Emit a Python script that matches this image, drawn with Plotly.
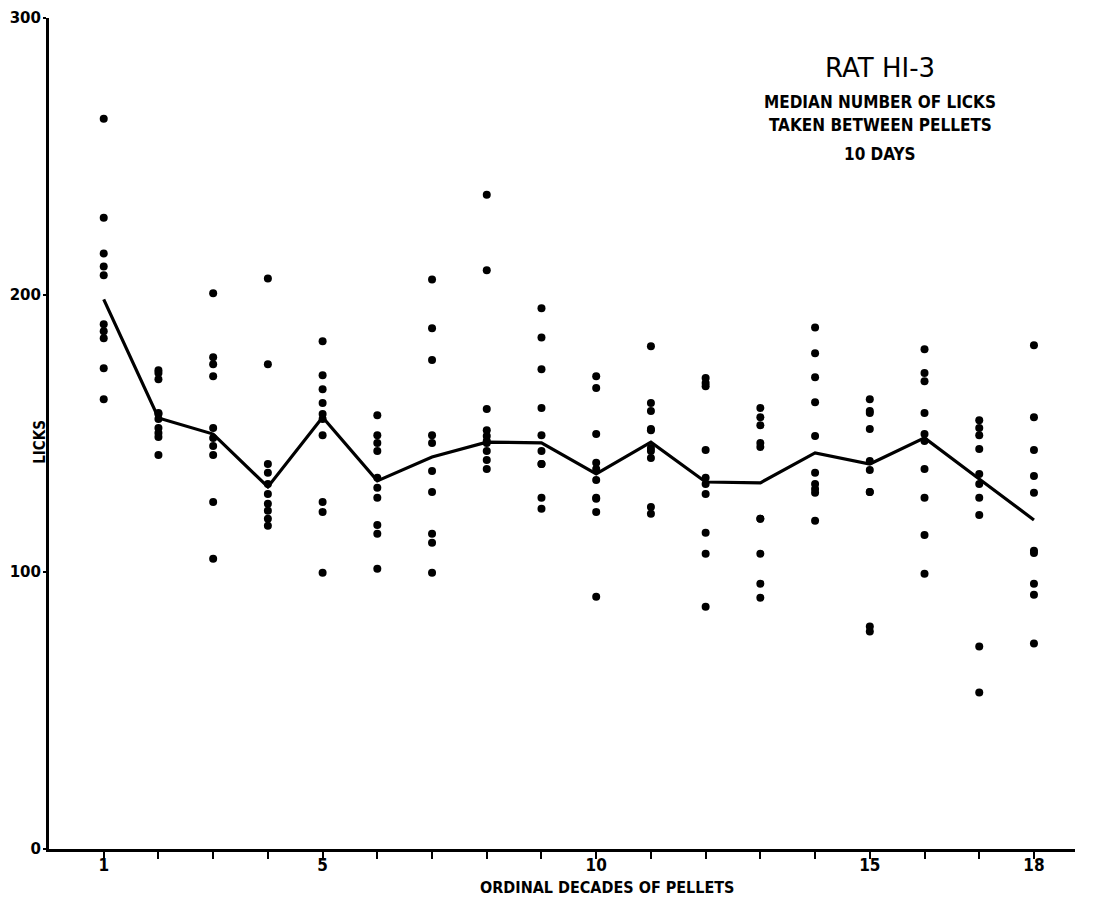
import plotly.graph_objects as go

# Ordinal decades of pellets (x categories)
decades = list(range(1, 19))

# Daily median licks (10 days) for each decade
licks_d01 = [263.6, 227.9, 215.0, 210.3, 207.1, 189.4, 186.9, 184.4, 173.6, 162.4]
licks_d02 = [172.8, 171.8, 169.6, 157.4, 157.0, 155.2, 152.0, 150.2, 148.7, 142.2]
licks_d03 = [200.6, 177.5, 175.0, 170.7, 152.0, 148.4, 145.5, 142.2, 125.3, 104.8]
licks_d04 = [206.0, 175.0, 139.0, 135.8, 131.8, 128.2, 124.6, 122.1, 119.2, 116.7]
licks_d05 = [183.3, 171.0, 166.0, 161.0, 157.0, 155.2, 149.4, 125.3, 121.7, 99.7]
licks_d06 = [156.6, 149.4, 146.6, 143.7, 134.0, 130.4, 126.8, 117.0, 113.8, 101.2]
licks_d07 = [205.6, 188.0, 176.5, 149.4, 146.6, 136.5, 128.9, 113.8, 110.6, 99.7]
licks_d08 = [236.2, 208.9, 158.8, 151.2, 149.1, 147.3, 146.6, 143.7, 140.4, 137.2]
licks_d09 = [195.2, 184.7, 173.2, 159.2, 149.4, 143.7, 139.0, 139.0, 126.8, 122.8]
licks_d10 = [170.7, 166.4, 149.8, 139.4, 137.2, 133.2, 126.8, 126.4, 121.7, 91.1]
licks_d11 = [181.5, 161.0, 158.1, 151.6, 151.2, 144.8, 143.7, 141.2, 123.5, 121.0]
licks_d12 = [170.0, 168.2, 167.1, 144.0, 134.0, 131.8, 128.2, 114.2, 106.6, 87.5]
licks_d13 = [159.2, 155.9, 153.0, 146.6, 145.1, 119.2, 119.2, 106.6, 95.8, 90.7]
licks_d14 = [188.3, 179.0, 170.3, 161.3, 149.1, 135.8, 131.8, 130.0, 128.6, 118.5]
licks_d15 = [162.4, 158.1, 157.4, 151.6, 140.1, 136.8, 128.9, 128.9, 80.3, 78.5]
licks_d16 = [180.4, 171.8, 168.9, 157.4, 149.8, 147.3, 137.2, 126.8, 113.4, 99.4]
licks_d17 = [154.8, 152.0, 149.4, 144.4, 135.4, 131.8, 126.8, 120.6, 73.1, 56.5]
licks_d18 = [181.9, 155.9, 144.0, 134.7, 128.6, 107.7, 106.9, 95.8, 91.8, 74.2]

# Median over the 10 days (the connected line)
median_licks = [198.4, 155.6, 149.8, 130.7, 155.9, 132.9, 141.5, 146.9, 146.6,
                135.4, 146.9, 132.5, 132.2, 143.0, 139.0, 148.4, 133.6, 118.8]

# Axis ticks
y_tickvals = [0, 100, 200, 300]
y_ticktext = ["0", "100", "200", "300"]
x_ticktext = ["1", "", "", "", "5", "", "", "", "", "10", "", "", "", "", "15", "", "", "18"]

all_days = [licks_d01, licks_d02, licks_d03, licks_d04, licks_d05, licks_d06,
            licks_d07, licks_d08, licks_d09, licks_d10, licks_d11, licks_d12,
            licks_d13, licks_d14, licks_d15, licks_d16, licks_d17, licks_d18]

pts_x, pts_y = [], []
for dec, vals in zip(decades, all_days):
    for v in vals:
        pts_x.append(dec)
        pts_y.append(v)

LET = "'DejaVu Sans Condensed', 'Liberation Sans Narrow', sans-serif"
WIDE = "'DejaVu Sans', sans-serif"

fig = go.Figure()
fig.add_trace(go.Scatter(x=pts_x, y=pts_y, mode="markers",
                         marker=dict(color="black", size=8, line=dict(width=0)),
                         showlegend=False, hoverinfo="x+y"))
fig.add_trace(go.Scatter(x=decades, y=median_licks, mode="lines",
                         line=dict(color="black", width=3.2),
                         showlegend=False))

# page body has an 8px margin, so the figure starts 8px in from the top-left
fig.update_layout(
    width=1093, height=889,
    margin=dict(l=41, r=26, t=10, b=48, autoexpand=False),
    paper_bgcolor="white", plot_bgcolor="white",
    font=dict(family=LET, color="black"),
    xaxis=dict(range=[0, 18.75], tickvals=decades, ticktext=x_ticktext,
               showgrid=False, zeroline=False, showline=True, automargin=False,
               linecolor="black", linewidth=3, ticks="outside", ticklen=7,
               tickwidth=2, tickcolor="black", ticklabelstandoff=-8,
               tickfont=dict(family=LET, size=17, color="black", weight="bold")),
    yaxis=dict(range=[0, 300], tickvals=y_tickvals, ticktext=y_ticktext,
               showgrid=False, zeroline=False, showline=True, automargin=False,
               linecolor="black", linewidth=3, ticks="outside", ticklen=3,
               tickwidth=2, tickcolor="black", ticklabelstandoff=-1,
               tickfont=dict(family=WIDE, size=15, color="black", weight="bold")),
)

fig.add_annotation(text="<b>ORDINAL DECADES OF PELLETS</b>", xref="x", yref="paper",
                   x=10.2, y=0, yshift=-38, yanchor="middle", xanchor="center",
                   showarrow=False,
                   font=dict(family=LET, size=16, color="black"))
fig.add_annotation(text="<b>LICKS</b>", xref="paper", yref="y",
                   x=0, xshift=-9, y=147, xanchor="center", yanchor="middle",
                   textangle=-90, showarrow=False,
                   font=dict(family=LET, size=15, color="black"))
fig.add_annotation(text="RAT HI-3", xref="paper", yref="paper",
                   x=0.81, y=1, yshift=-50, xanchor="center", yanchor="middle",
                   showarrow=False,
                   font=dict(family=WIDE, size=26, color="black"))
for line_text, shift in [("MEDIAN NUMBER OF LICKS", -84),
                         ("TAKEN BETWEEN PELLETS", -107),
                         ("10 DAYS", -136)]:
    fig.add_annotation(text="<b>" + line_text + "</b>", xref="paper", yref="paper",
                       x=0.81, y=1, yshift=shift, xanchor="center", yanchor="middle",
                       showarrow=False,
                       font=dict(family=LET, size=17, color="black"))

fig.write_html("out.html")
